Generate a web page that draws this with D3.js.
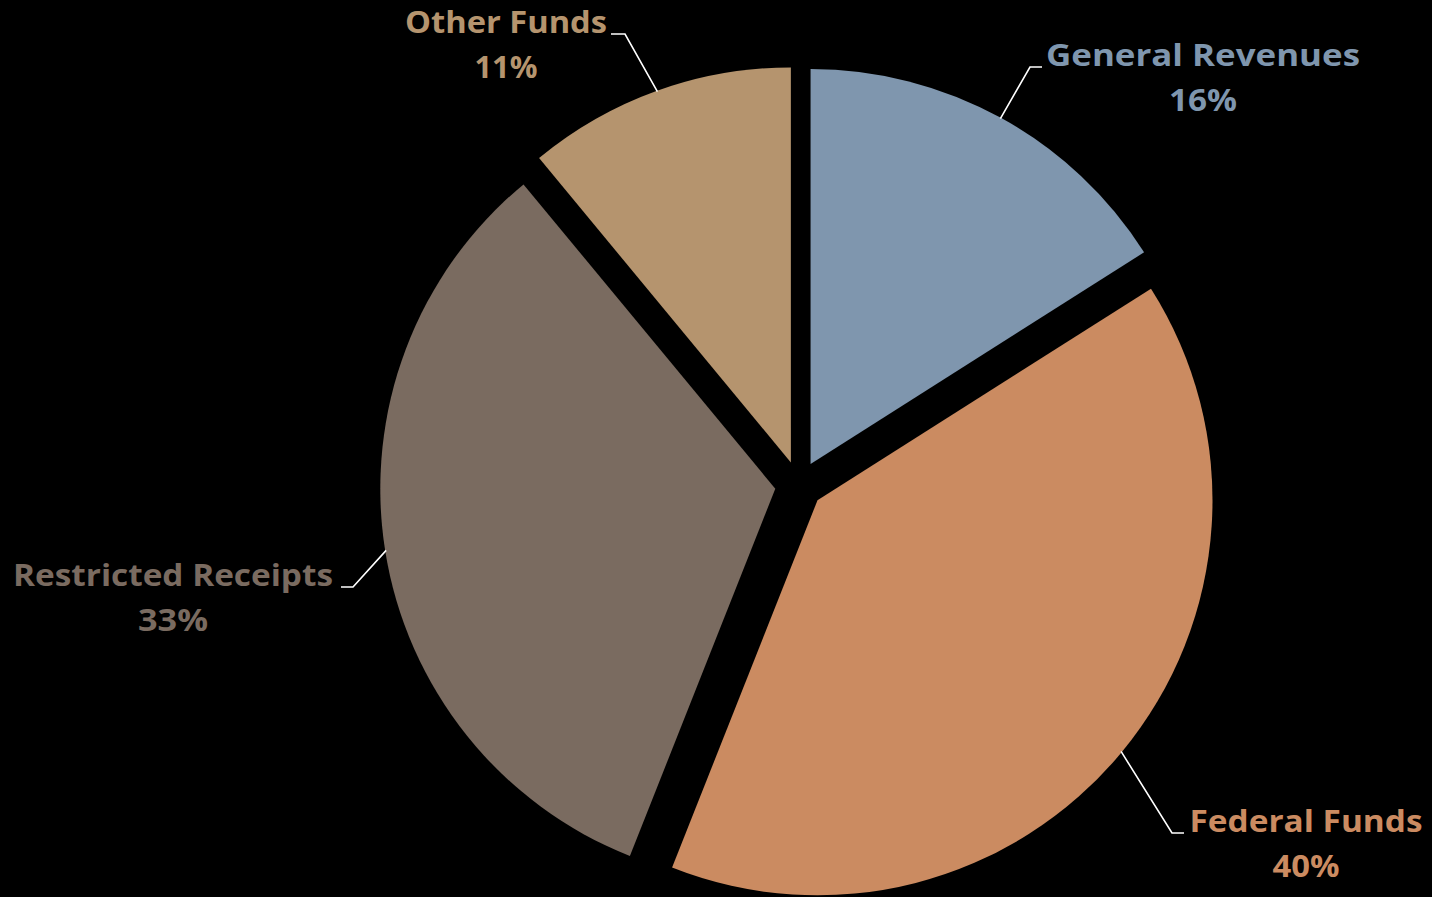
<!DOCTYPE html>
<html><head><meta charset="utf-8">
<script src="https://cdn.jsdelivr.net/npm/d3@7"></script>
<style>html,body{margin:0;padding:0;background:#000;}svg{display:block;}</style>
</head><body>
<svg id="chart" width="1432" height="897"></svg>
<script>
const categories = ["General Revenues", "Federal Funds", "Restricted Receipts", "Other Funds"];
const values = [16, 40, 33, 11];
const colors = ["#7f96ae", "#cb8b61", "#7a6b60", "#b5946e"];
// label layout (text centre x, first baseline y, leader elbow x, text widths)
const labelX = [1203, 1306, 173, 506];
const labelY = [66, 832, 586, 33];
const elbowStart = [1042, 1184, 341, 611];
const elbowEnd = [1030, 1172, 353, 625];
const nameWidth = [314, 233, 320, 202];
const pctWidth = [68, 67, 70, 63];

const W = 1432, H = 897;
const cx = 799, cy = 485, R = 395, explode = 24;
const svg = d3.select("#chart");
svg.append("rect").attr("width", W).attr("height", H).attr("fill", "#000");

const data = categories.map((c, i) => ({name: c, value: values[i], color: colors[i], i}));
const pie = d3.pie().value(d => d.value).sort(null);
const arcs = pie(data);
const arc = d3.arc().innerRadius(0).outerRadius(R);
const g = svg.append("g").attr("transform", `translate(${cx},${cy})`);

function offset(a) {
  const m = (a.startAngle + a.endAngle) / 2;
  return [Math.sin(m) * explode, -Math.cos(m) * explode];
}

g.selectAll("path").data(arcs).join("path")
  .attr("d", arc)
  .attr("transform", d => { const o = offset(d); return `translate(${o[0]},${o[1]})`; })
  .attr("fill", d => d.data.color);

// leader lines
arcs.forEach(a => {
  const m = (a.startAngle + a.endAngle) / 2;
  const o = offset(a);
  const px = cx + o[0] + Math.sin(m) * (R - 1);
  const py = cy + o[1] - Math.cos(m) * (R - 1);
  const i = a.data.i;
  const ly = labelY[i] + 1;
  svg.append("polyline")
    .attr("points", `${elbowStart[i]},${ly} ${elbowEnd[i]},${ly} ${px},${py}`)
    .attr("fill", "none").attr("stroke", "#fff").attr("stroke-width", 1.6);
});

// labels
arcs.forEach(a => {
  const i = a.data.i;
  const t = svg.append("g")
    .attr("fill", a.data.color)
    .attr("font-family", "'Open Sans', Lato, sans-serif")
    .attr("font-weight", 700)
    .attr("font-size", 30);
  t.append("text").attr("x", labelX[i] - nameWidth[i] / 2).attr("y", labelY[i])
    .attr("textLength", nameWidth[i]).attr("lengthAdjust", "spacingAndGlyphs")
    .text(a.data.name);
  t.append("text").attr("x", labelX[i] - pctWidth[i] / 2).attr("y", labelY[i] + 45)
    .attr("textLength", pctWidth[i]).attr("lengthAdjust", "spacingAndGlyphs")
    .text(a.data.value + "%");
});
</script>
</body></html>
